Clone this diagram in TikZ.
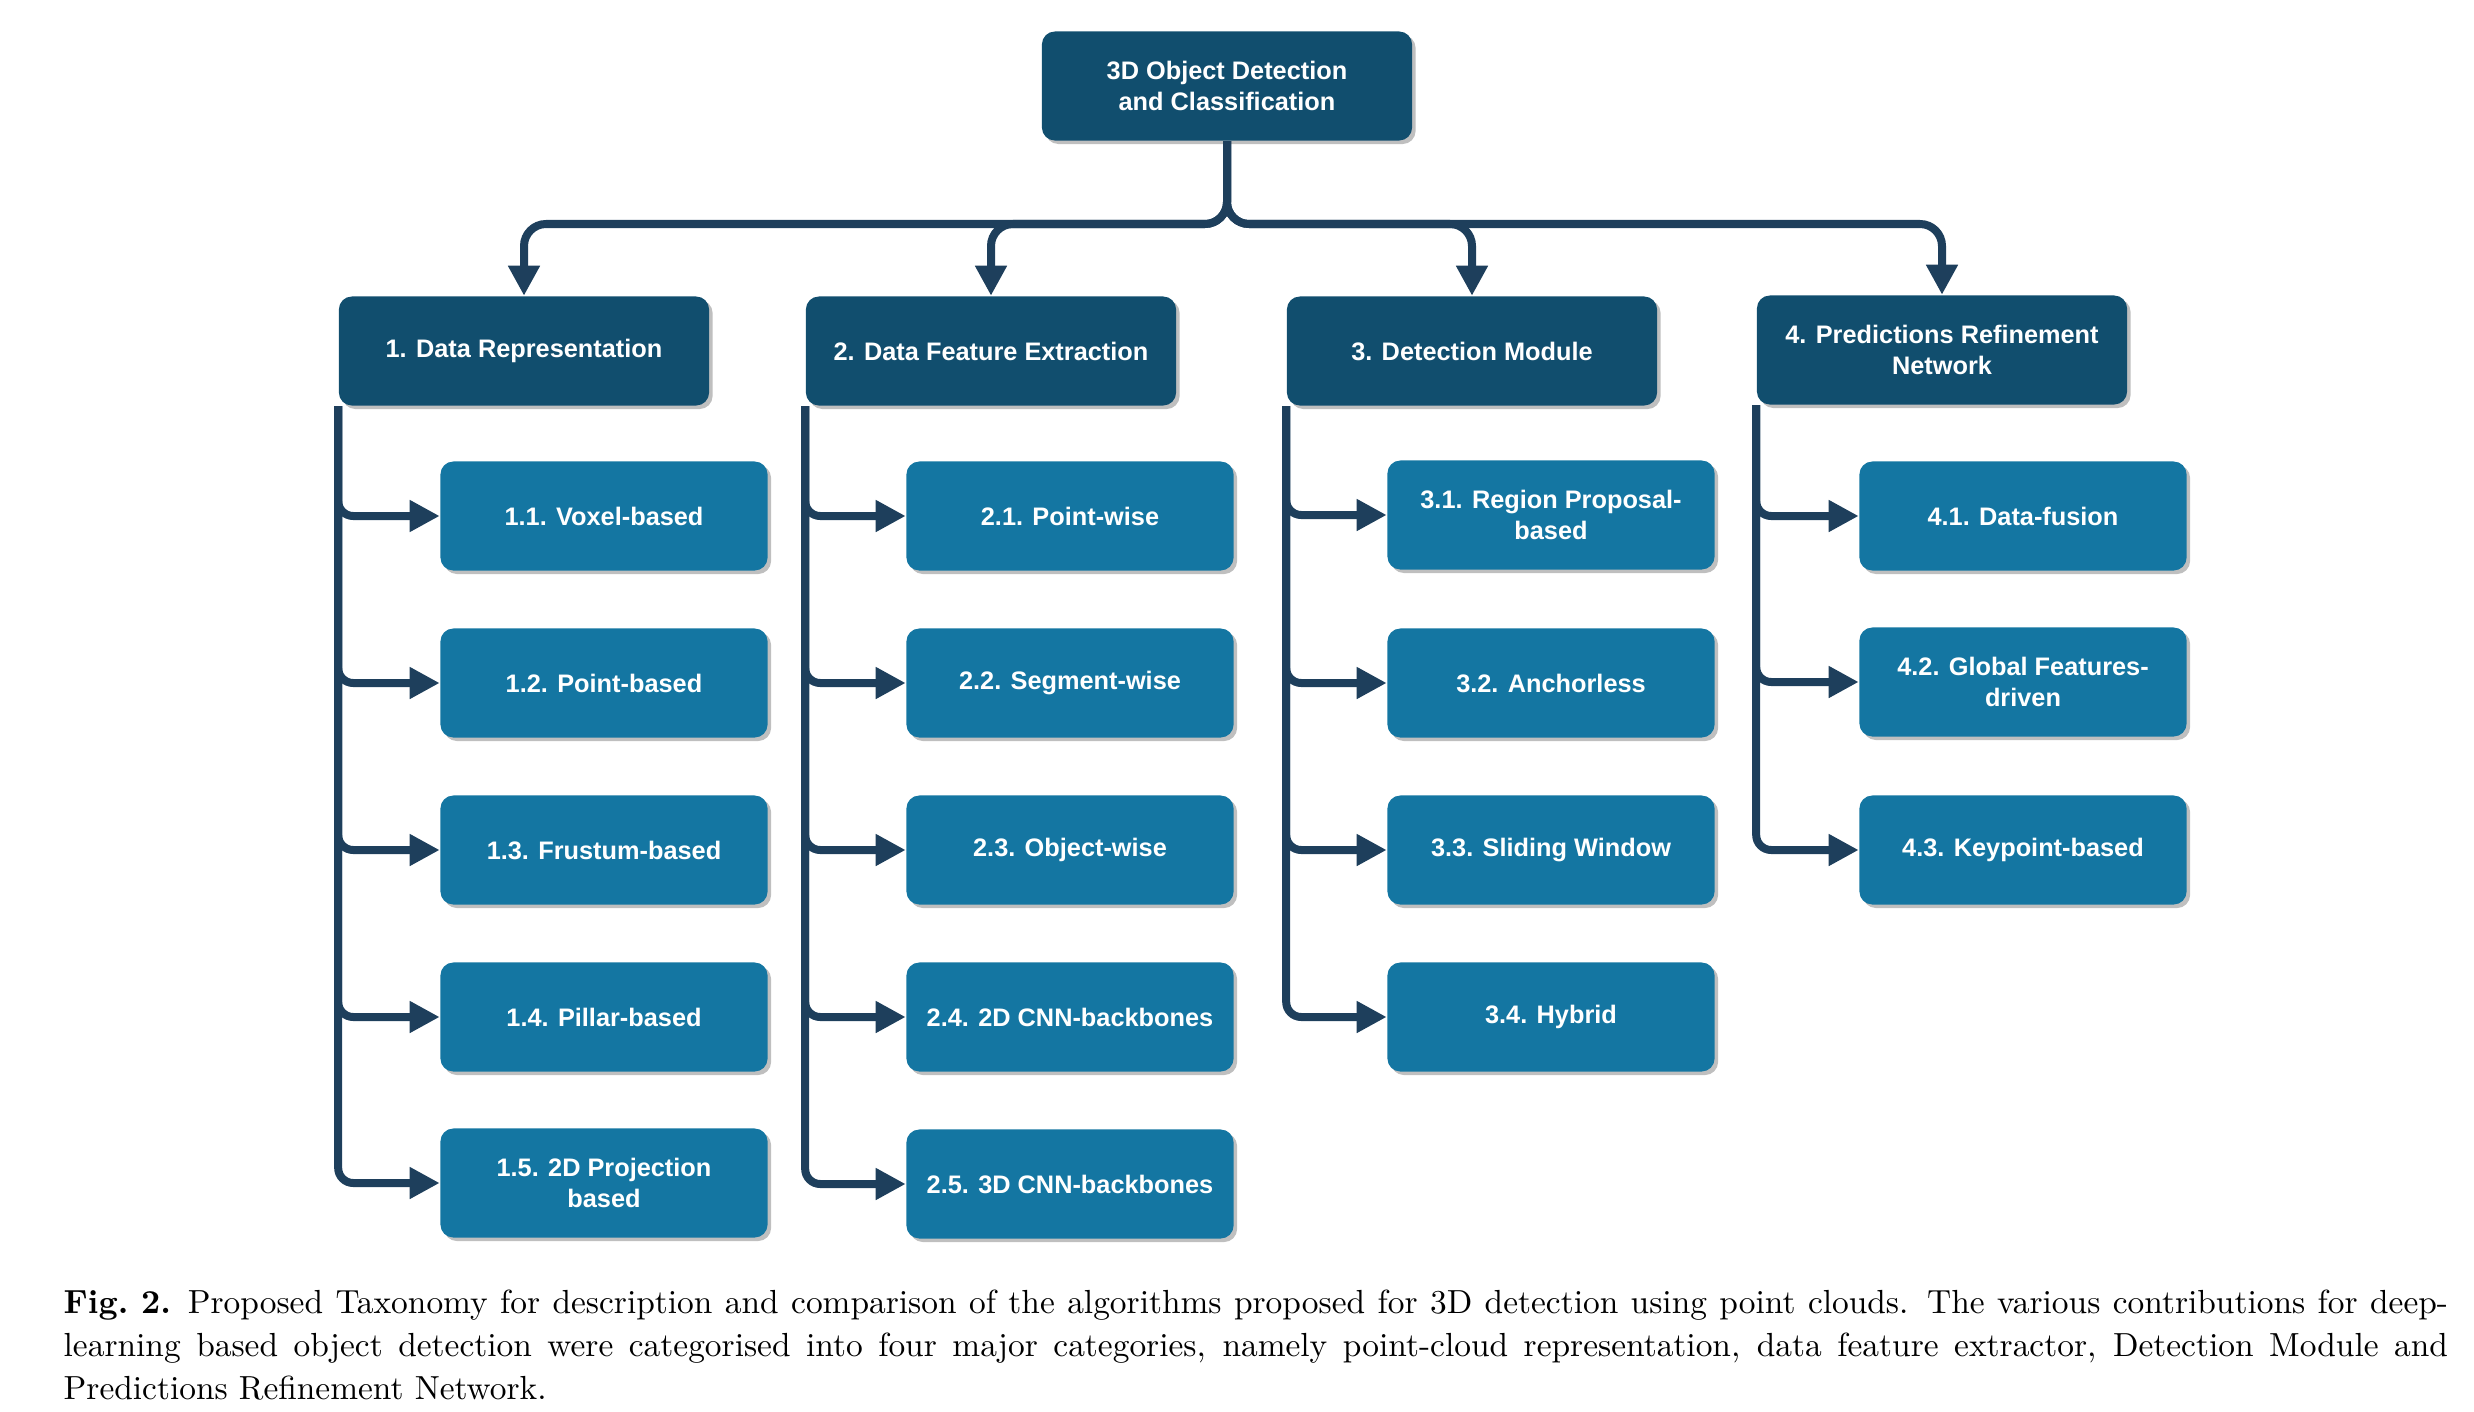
\documentclass[tikz,border=0pt]{standalone}
\usepackage{fontspec}
\setsansfont{Liberation Sans}
\usetikzlibrary{arrows.meta,shadows}
\definecolor{darkbox}{HTML}{114E6E}
\definecolor{leafbox}{HTML}{1476A2}
\definecolor{connline}{HTML}{1E3F5C}
\begin{document}
\begin{tikzpicture}[x=0.01cm,y=-0.01cm,
  box/.style={rounded corners=0.13cm, text=white,
    font=\sffamily\bfseries\fontsize{7.2}{8.6}\selectfont, align=center, inner sep=0pt,
    drop shadow={shadow xshift=0.035cm, shadow yshift=-0.035cm, fill=black, opacity=0.25}},
  headbox/.style={box, fill=darkbox, minimum width=3.70cm, minimum height=1.09cm},
  leafnode/.style={box, fill=leafbox, minimum width=3.27cm, minimum height=1.09cm},
  conn/.style={draw=connline, line width=0.08cm, rounded corners=0.15cm,
    -{Triangle[length=0.30cm,width=0.30cm]}},
  topconn/.style={conn, rounded corners=0.22cm},
]
\useasboundingbox (0,0) rectangle (2474,1412);

% root and categories
\node[headbox] (root) at (1227,86) {3D Object Detection\\and Classification};
\node[headbox] (c1) at (524,351) {1. Data Representation};
\node[headbox] (c2) at (991,351) {2. Data Feature Extraction};
\node[headbox] (c3) at (1472,351) {3. Detection Module};
\node[headbox] (c4) at (1942,350) {4. Predictions Refinement\\Network};
\coordinate (bar) at (1227,224);

% leaves
\node[leafnode] (l11) at (604,516) {1.1. Voxel-based};
\node[leafnode] (l12) at (604,683) {1.2. Point-based};
\node[leafnode] (l13) at (604,850) {1.3. Frustum-based};
\node[leafnode] (l14) at (604,1017) {1.4. Pillar-based};
\node[leafnode] (l15) at (604,1183) {1.5. 2D Projection\\based};

\node[leafnode] (l21) at (1070,516) {2.1. Point-wise};
\node[leafnode] (l22) at (1070,683) {2.2. Segment-wise};
\node[leafnode] (l23) at (1070,850) {2.3. Object-wise};
\node[leafnode] (l24) at (1070,1017) {2.4. 2D CNN-backbones};
\node[leafnode] (l25) at (1070,1184) {2.5. 3D CNN-backbones};

\node[leafnode] (l31) at (1551,515) {3.1. Region Proposal-\\based};
\node[leafnode] (l32) at (1551,683) {3.2. Anchorless};
\node[leafnode] (l33) at (1551,850) {3.3. Sliding Window};
\node[leafnode] (l34) at (1551,1017) {3.4. Hybrid};

\node[leafnode] (l41) at (2023,516) {4.1. Data-fusion};
\node[leafnode] (l42) at (2023,682) {4.2. Global Features-\\driven};
\node[leafnode] (l43) at (2023,850) {4.3. Keypoint-based};

% root to categories
\foreach \c in {c1,c2,c3,c4}
  \draw[topconn] (root.south) |- (\c.north |- bar) -- (\c.north);

% categories to leaves
\foreach \l in {l11,l12,l13,l14,l15}
  \draw[conn] (c1.south west) |- (\l.west);
\foreach \l in {l21,l22,l23,l24,l25}
  \draw[conn] (c2.south west) |- (\l.west);
\foreach \l in {l31,l32,l33,l34}
  \draw[conn] (c3.south west) |- (\l.west);
\foreach \l in {l41,l42,l43}
  \draw[conn] (c4.south west) |- (\l.west);

% caption
\node[anchor=north west, inner sep=0pt, text width=23.83cm, align=justify,
      font=\fontsize{9.5}{12.2}\selectfont] (cap) at (63,1289)
  {\mbox{\textbf{Fig.~2.}\hspace{0.5em}}Proposed Taxonomy for description and comparison of the algorithms proposed for 3D detection using point clouds. The various contributions for deep-\linebreak learning based object detection were categorised into four major categories, namely point-cloud representation, data feature extractor, Detection Module and\linebreak Predictions Refinement Network.};
\end{tikzpicture}
\end{document}
